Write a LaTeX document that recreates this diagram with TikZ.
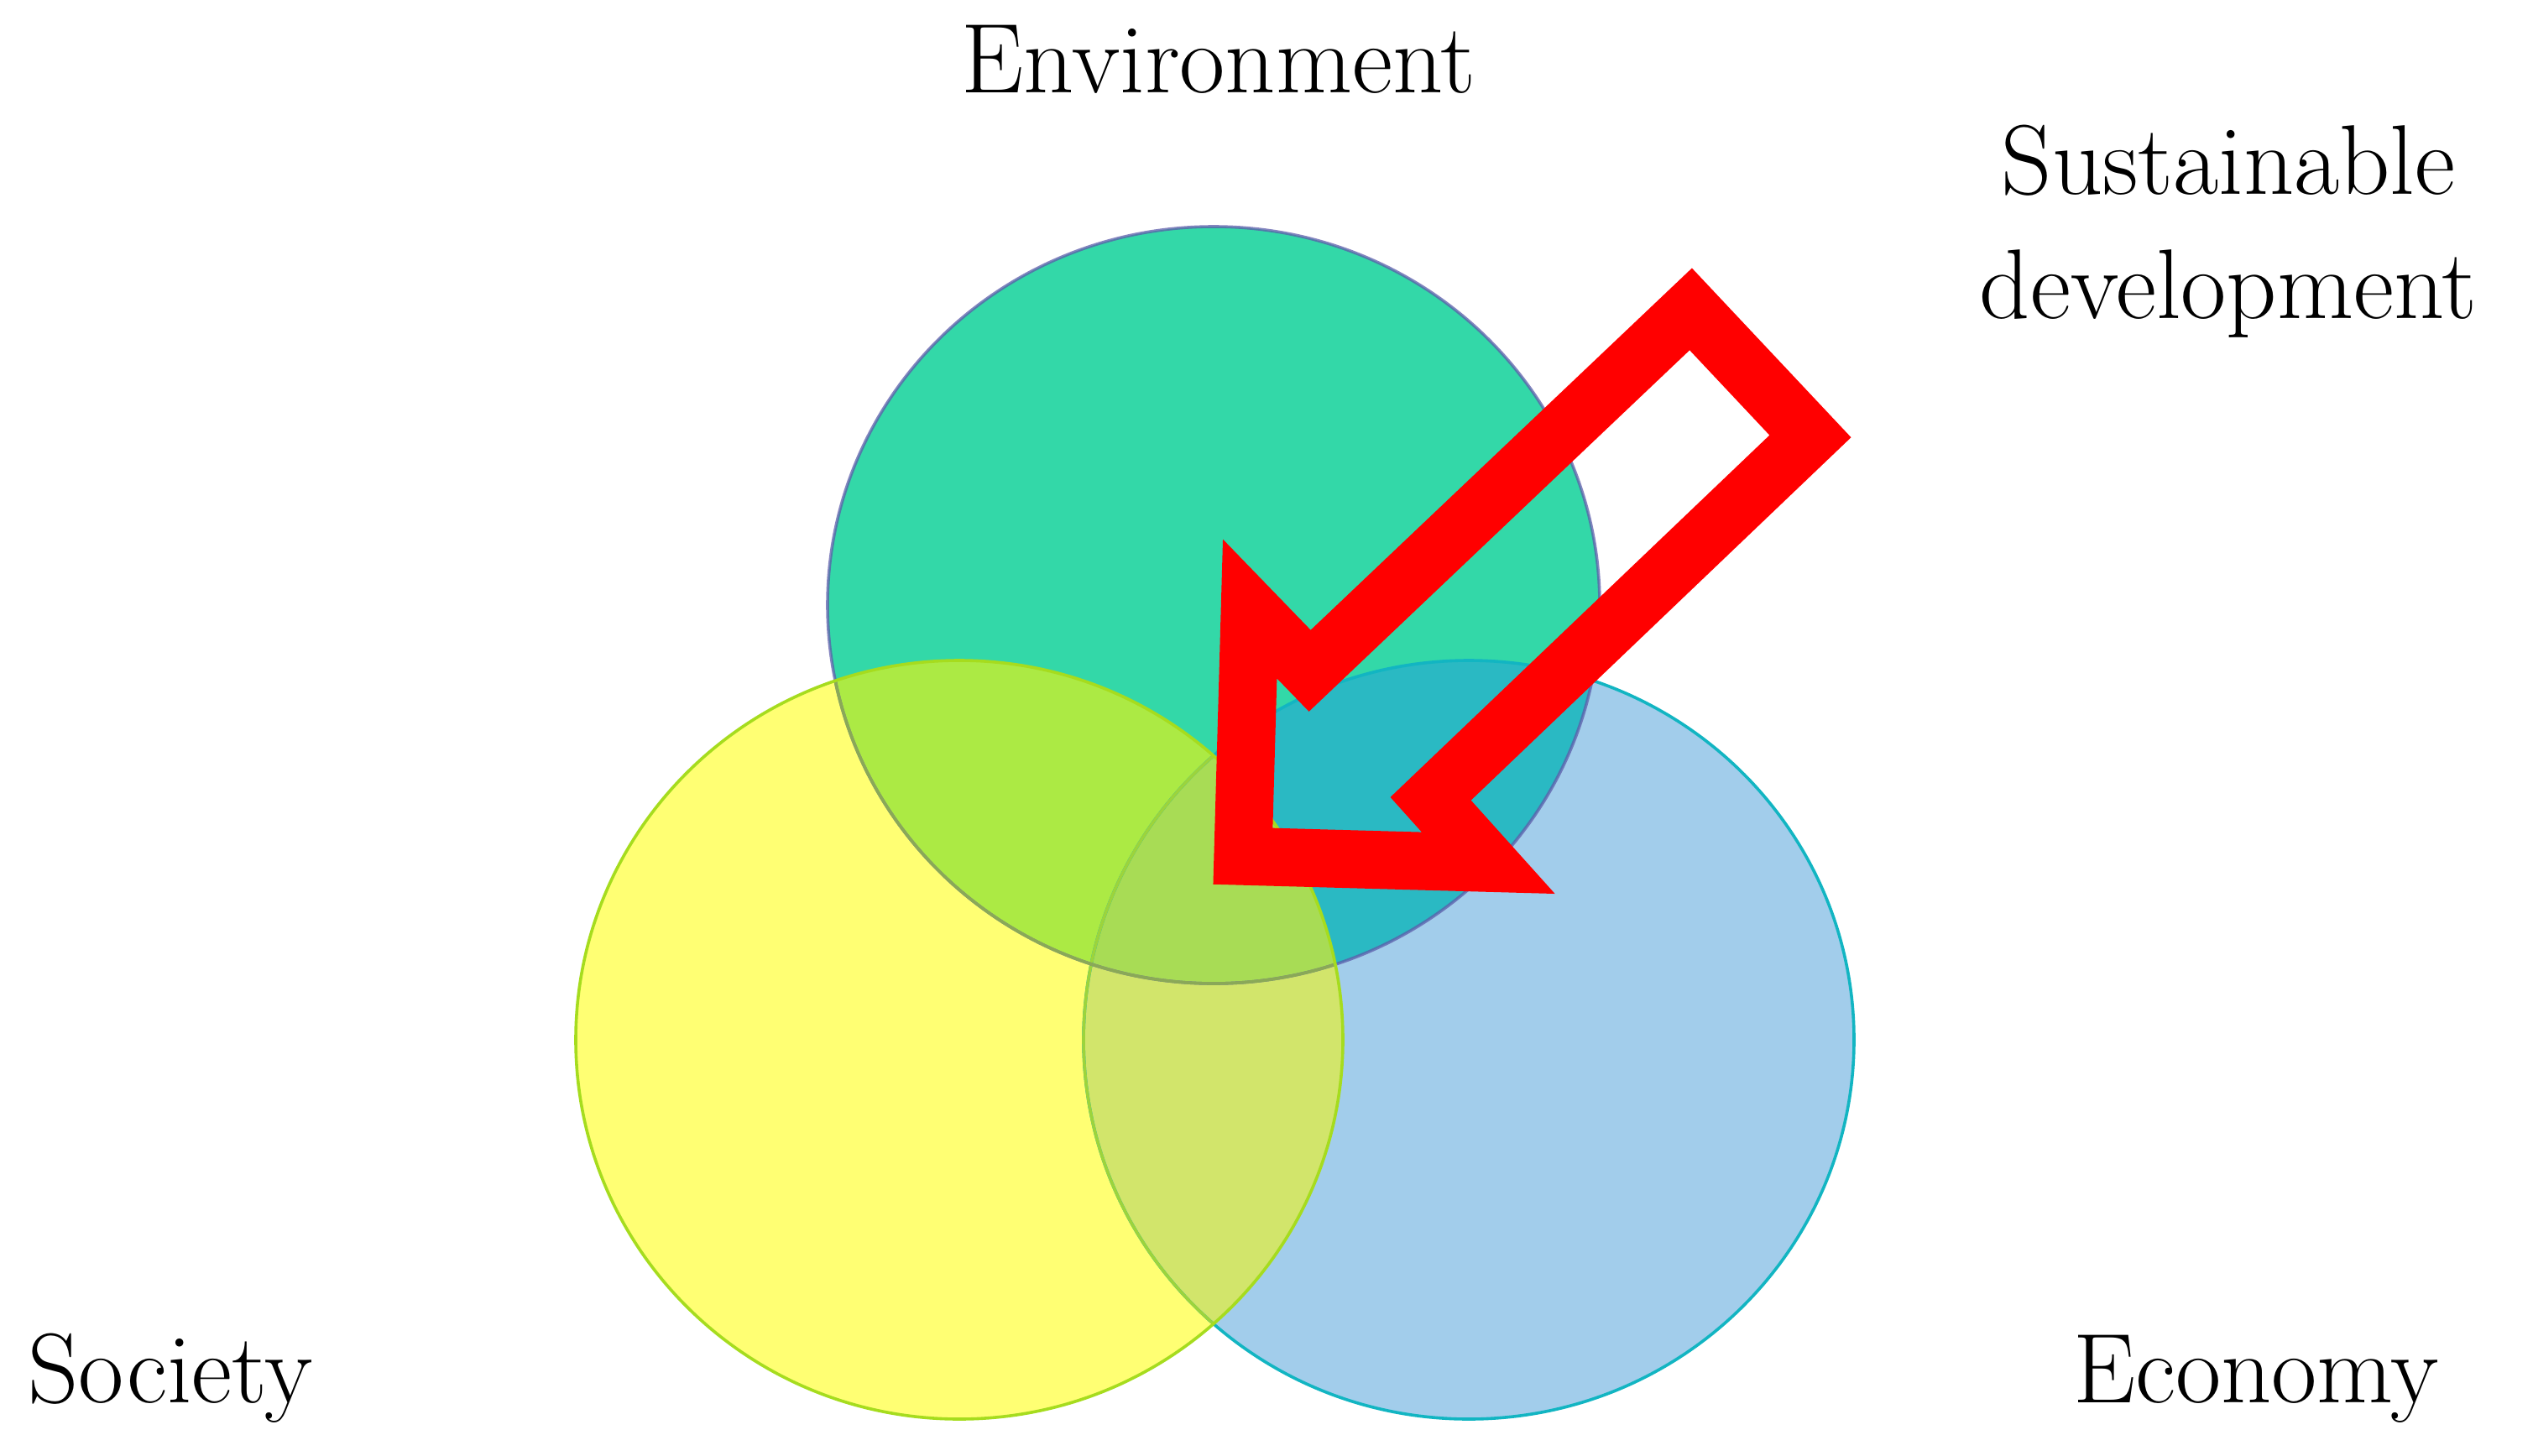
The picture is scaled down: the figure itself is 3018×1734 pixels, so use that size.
\documentclass[tikz,border=0pt]{standalone}
\definecolor{envonly}{HTML}{33D8A8}
\definecolor{soconly}{HTML}{FFFF73}
\definecolor{ecoonly}{HTML}{A2CDEB}
\definecolor{envsoc}{HTML}{ACEA44}
\definecolor{enveco}{HTML}{2AB9C3}
\definecolor{soceco}{HTML}{D2E56B}
\definecolor{allthree}{HTML}{A8DC55}
\definecolor{envline}{HTML}{5C5CAA}
\definecolor{envlinesoc}{HTML}{8AA858}
\definecolor{socline}{HTML}{A6DC1E}
\definecolor{ecoline}{HTML}{12B5C2}
\definecolor{ecolinesoc}{HTML}{9CD43C}
\definecolor{arrowred}{HTML}{FF0000}
\begin{document}
\begin{tikzpicture}[x=0.25pt,y=-0.25pt,
  lbl/.style={inner sep=0pt, font=\fontsize{29.5}{37}\selectfont, anchor=base},
  rim/.style={line width=0.9pt}]
\useasboundingbox (0,0) rectangle (3018,1734);
\fill[white] (0,0) rectangle (3018,1734);
% region fills
\def\envE{(1446,721) ellipse [x radius=115pt, y radius=112.75pt]}
\def\socE{(1143,1239) ellipse [x radius=114.25pt, y radius=113pt]}
\def\ecoE{(1750,1239) ellipse [x radius=114.75pt, y radius=113pt]}
\fill[envonly] \envE;
\fill[soconly] \socE;
\fill[ecoonly] \ecoE;
\begin{scope}
  \clip \socE;
  \fill[soceco] \ecoE;
\end{scope}
\begin{scope}
  \clip \envE;
  \fill[envsoc] \socE;
  \fill[enveco] \ecoE;
  \clip \socE;
  \fill[allthree] \ecoE;
\end{scope}
% rims
\draw[rim, ecoline] \ecoE;
\begin{scope}
  \clip \socE;
  \draw[rim, ecolinesoc] \ecoE;
\end{scope}
\draw[rim, envline, opacity=0.75] \envE;
\begin{scope}
  \clip \socE;
  \draw[rim, envlinesoc] \envE;
\end{scope}
\draw[rim, socline] \socE;
% arrow
\draw[arrowred, line width=17.25pt, line join=miter, miter limit=10]
  (2014.5,368.4) -- (2156.9,519.9) -- (1704.6,951.8) -- (1773.3,1028.3)
  -- (1480.9,1020.2) -- (1489.2,725.5) -- (1560.6,799.3) -- cycle;
% labels
\node[lbl] (env) at (1452,110) {Environment};
\node[lbl] (sd1) at (2655,231) {Sustainable};
\node[lbl] (sd2) at (2655,379) {development};
\node[lbl] (soc) at (203,1671) {Society};
\node[lbl] (eco) at (2688,1671) {Economy};
\end{tikzpicture}
\end{document}
